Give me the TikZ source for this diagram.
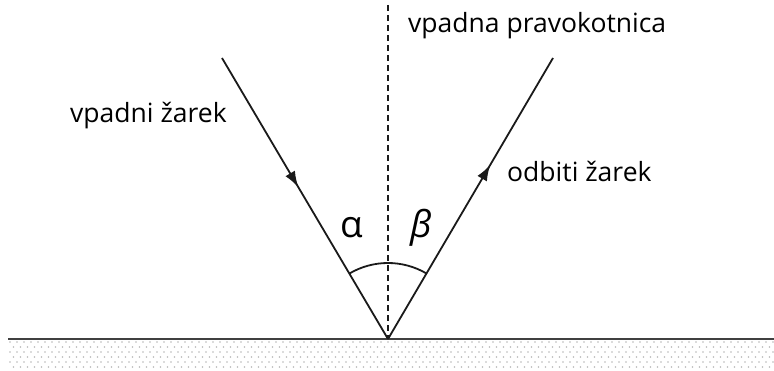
\documentclass[tikz,border=0pt]{standalone}
\usepackage{fontspec}
\setmainfont{Open Sans}
\usepackage{tikz}
\usetikzlibrary{arrows.meta,decorations.markings}

\definecolor{rayBlack}{HTML}{1A1A1A}
\definecolor{groundDot}{HTML}{B8B8B8}

\tikzset{
  ray/.style={draw=rayBlack, line width=1.8pt},
  midarrow/.style={decoration={markings, mark=at position #1 with {\arrow{Latex[length=16pt,width=11pt]}}}, postaction={decorate}},
  lbl/.style={font=\fontsize{26.5}{30}\selectfont, anchor=base west, inner sep=0pt},
  anglbl/.style={font=\fontsize{37}{40}\selectfont, anchor=base west, inner sep=0pt}
}

\begin{document}
\begin{tikzpicture}[x=1pt, y=1pt]
\useasboundingbox (0,0) rectangle (774,370);
% ground stipple
\foreach \r in {0,...,5} {
  \foreach \c in {0,...,109} {
    \fill[groundDot] ({10+7*\c+3.5*mod(\r,2)},{28-5*\r}) circle (0.8);
  }
}
\coordinate (O) at (388,31);
\coordinate (A) at (222,312);
\coordinate (B) at (553,312);
\coordinate (N) at (388,365);
\coordinate (gl) at (8,31);
\coordinate (gr) at (774,31);
\draw[line width=2pt, black!75] (gl) -- (gr);
\draw[ray, dash pattern=on 6pt off 4pt] (N) -- (O);
\draw[ray, midarrow=0.46] (A) -- (O);
\draw[ray, midarrow=0.62] (O) -- (B);
\draw[ray] (O) ++(120.6:76) arc[start angle=120.6, end angle=59.6, radius=76];
\node[lbl] (normal) at (408,337) {vpadna pravokotnica};
\node[lbl] (inc) at (70,247) {vpadni žarek};
\node[lbl] (refl) at (507,188) {odbiti žarek};
\node[anglbl] (alpha) at (340,132) {α};
\node[anglbl] (beta) at (410,132) {\itshape β};
\end{tikzpicture}
\end{document}
